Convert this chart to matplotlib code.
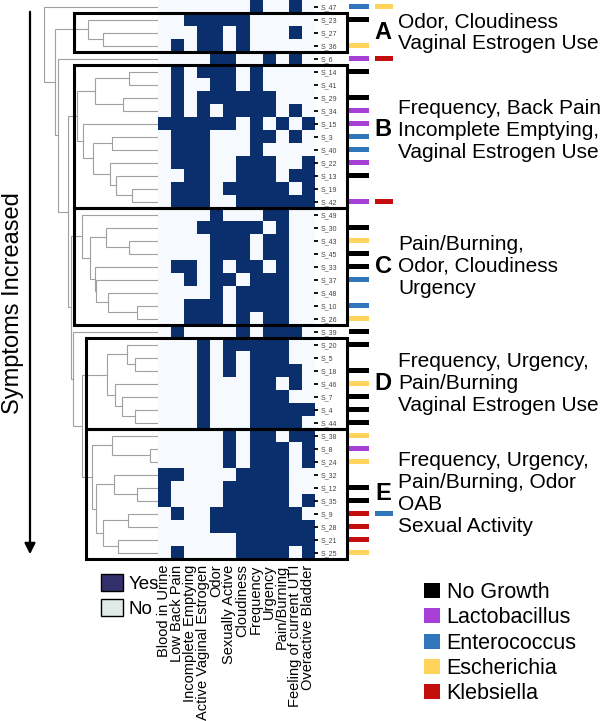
import numpy as np
import matplotlib
matplotlib.use("Agg")
import matplotlib.pyplot as plt
from matplotlib.colors import ListedColormap
from matplotlib.patches import Rectangle, Patch
from matplotlib.transforms import blended_transform_factory

plt.rcParams['font.family'] = ['Liberation Sans', 'DejaVu Sans']

W, H = 600, 721

symptoms = ["Blood in Urine", "Low Back Pain", "Incomplete Emptying",
            "Active Vaginal Estrogen", "Odor", "Sexually Active", "Cloudiness",
            "Frequency", "Urgency", "Pain/Burning", "Feeling of current UTI",
            "Overactive Bladder"]

samples = ["S_47", "S_23", "S_27", "S_36", "S_6", "S_14", "S_41", "S_29", "S_34",
           "S_15", "S_3", "S_40", "S_22", "S_13", "S_19", "S_42", "S_49", "S_30",
           "S_43", "S_45", "S_33", "S_37", "S_48", "S_10", "S_26", "S_39", "S_20",
           "S_5", "S_18", "S_46", "S_7", "S_4", "S_44", "S_38", "S_8", "S_24",
           "S_32", "S_12", "S_35", "S_9", "S_28", "S_21", "S_25"]

# 1 = yes, one string per sample, columns in the order of `symptoms`
answers = ["000000010010", "001111100000", "000110100010", "010110100000",
           "000011001010", "010111010000", "010011010000", "010111111000",
           "010101111010", "111111010101", "011100011010", "011100010000",
           "011100111001", "001100111011", "011101111101", "011100111111",
           "000010001100", "000111110100", "000011101100", "000011101100",
           "011010110100", "001011011100", "000010111100", "001110111100",
           "001110101100", "010000101110", "000101111100", "000101011100",
           "000101011110", "000100011010", "000100011100", "000100011111",
           "000100011110", "000001011011", "000001011101", "000001011101",
           "110000111100", "100001111100", "100001111101", "010011111110",
           "000011111111", "000000111111", "010000111101"]

# culture result per sample (first and second organism)
culture_1 = ["Enterococcus", "No Growth", None, "Escherichia", "Lactobacillus",
             "No Growth", None, "No Growth", "Lactobacillus", "Lactobacillus",
             "Enterococcus", "Enterococcus", "Lactobacillus", "No Growth", None,
             "Lactobacillus", None, "No Growth", "Escherichia", "No Growth",
             "No Growth", "Enterococcus", None, "Enterococcus", "Escherichia",
             "No Growth", "No Growth", None, "No Growth", "Escherichia",
             "No Growth", "No Growth", "No Growth", "Escherichia", "Lactobacillus",
             "Escherichia", None, "No Growth", "No Growth", "Klebsiella",
             "Klebsiella", "Klebsiella", "Escherichia"]
culture_2 = {"S_47": "Escherichia", "S_6": "Klebsiella", "S_42": "Klebsiella",
             "S_9": "Enterococcus"}

organism_colors = {"No Growth": "#000000", "Lactobacillus": "#a53fd6",
                   "Enterococcus": "#2f76bd", "Escherichia": "#ffd35c",
                   "Klebsiella": "#c40d0d"}

# hierarchical clustering: (node, left, right, distance)
merges = [
    ("a1", "S_27", "S_36", 0.48), ("A", "S_23", "a1", 0.61),
    ("b1", "S_14", "S_41", 0.25), ("b2", "S_29", "S_34", 0.31), ("b3", "b1", "b2", 0.55),
    ("b4", "S_19", "S_42", 0.23), ("b5", "S_13", "b4", 0.37), ("b6", "S_22", "b5", 0.42),
    ("b7", "S_3", "S_40", 0.40), ("b8", "b7", "b6", 0.57), ("b9", "S_15", "b8", 0.66),
    ("B", "b3", "b9", 0.71),
    ("c1", "S_43", "S_45", 0.25), ("c2", "S_30", "c1", 0.46), ("c3", "S_10", "S_26", 0.18),
    ("c4", "S_48", "c3", 0.44), ("c5", "S_37", "c4", 0.54), ("c6", "S_33", "c5", 0.55),
    ("c7", "c2", "c6", 0.60), ("C", "S_49", "c7", 0.67),
    ("d1", "S_5", "S_18", 0.20), ("d2", "S_20", "d1", 0.27), ("d3", "S_4", "S_44", 0.20),
    ("d4", "S_7", "d3", 0.32), ("d5", "S_46", "d4", 0.38), ("D", "d2", "d5", 0.45),
    ("e1", "S_8", "S_24", 0.07), ("e2", "S_38", "e1", 0.40), ("e3", "S_12", "S_35", 0.18),
    ("e4", "S_32", "e3", 0.39), ("e5", "S_9", "S_28", 0.26), ("e6", "S_21", "S_25", 0.35),
    ("e7", "e5", "e6", 0.48), ("e8", "e4", "e7", 0.54), ("E", "e2", "e8", 0.58),
    ("de", "D", "E", 0.67), ("q", "S_39", "de", 0.75), ("p", "C", "q", 0.76),
    ("x", "B", "p", 0.79), ("y", "S_6", "x", 0.88), ("z", "A", "y", 0.90),
    ("root", "S_47", "z", 1.00),
]

cluster_names = ["A", "B", "C", "D", "E"]
cluster_first = [1, 5, 16, 26, 33]
cluster_last = [3, 15, 24, 32, 42]
cluster_label_row = [2, 9.5, 20, 29, 37.5]
cluster_notes = ["Odor, Cloudiness\nVaginal Estrogen Use",
                 "Frequency, Back Pain\nIncomplete Emptying,\nVaginal Estrogen Use",
                 "Pain/Burning,\nOdor, Cloudiness\nUrgency",
                 "Frequency, Urgency,\nPain/Burning\nVaginal Estrogen Use",
                 "Frequency, Urgency,\nPain/Burning, Odor\nOAB\nSexual Activity"]
box_left = [74, 74, 74, 86, 86]


def px_box(x0, y0, x1, y1):
    return [x0 / W, 1 - y1 / H, (x1 - x0) / W, (y1 - y0) / H]


fig = plt.figure(figsize=(W / 100, H / 100), dpi=100)
n = len(samples)

# dendrogram
ax_d = fig.add_axes(px_box(44, 0, 158, 559))
ax_d.set_xlim(1.0, 0.0)
ax_d.set_ylim(n - 0.5, -0.5)
ax_d.axis("off")
pos = {s: (i, 0.0) for i, s in enumerate(samples)}
for node, left, right, dist in merges:
    yl, dl = pos[left]
    yr, dr = pos[right]
    ax_d.plot([dl, dist, dist, dr], [yl, yl, yr, yr], color="#a0a0a0", lw=0.8,
              clip_on=False, solid_joinstyle="miter")
    pos[node] = ((yl + yr) / 2, dist)

# heatmap
ax_h = fig.add_axes(px_box(158, 0, 314, 559))
mat = np.array([[int(c) for c in row] for row in answers])
ax_h.imshow(mat, cmap=ListedColormap(["#f6faff", "#0a2f6c"]), aspect="auto",
            interpolation="nearest", vmin=0, vmax=1)
ax_h.set_xticks(range(len(symptoms)))
ax_h.set_xticklabels(symptoms, rotation=90, fontsize=10.5)
ax_h.tick_params(axis="x", length=0, pad=4)
ax_h.yaxis.tick_right()
ax_h.set_yticks(range(n))
ax_h.set_yticklabels(samples, fontsize=5, color="#444444")
ax_h.tick_params(axis="y", length=3, width=1.3, color="black", pad=2)
for sp in ax_h.spines.values():
    sp.set_visible(False)

# culture bars
ax_c = fig.add_axes(px_box(346, 0, 396, 559))
ax_c.set_xlim(0, 2)
ax_c.set_ylim(n - 0.5, -0.5)
ax_c.axis("off")
for i, s in enumerate(samples):
    if culture_1[i]:
        ax_c.barh(i, 0.82, left=0.1, height=0.38, color=organism_colors[culture_1[i]])
    if s in culture_2:
        ax_c.barh(i, 0.74, left=1.14, height=0.38, color=organism_colors[culture_2[s]])

# cluster boxes and notes
trans = blended_transform_factory(fig.transFigure, ax_h.transData)
for k, name in enumerate(cluster_names):
    r0, r1 = cluster_first[k] - 0.5, cluster_last[k] + 0.5
    rect = Rectangle((box_left[k] / W, r0), (347 - box_left[k]) / W, r1 - r0,
                     transform=trans, fill=False, ec="black", lw=2.2,
                     zorder=5, clip_on=False)
    fig.add_artist(rect)
    fig.text(383 / W, cluster_label_row[k], name, transform=trans, fontsize=17,
             fontweight="bold", ha="center", va="center")
    fig.text(398 / W, cluster_label_row[k], cluster_notes[k], transform=trans,
             fontsize=15, ha="left", va="center", linespacing=1.2)

# arrow and side label
ax_d.annotate("", xy=(30 / W, 1 - 557 / H), xytext=(30 / W, 1 - 9 / H),
              xycoords="figure fraction", textcoords="figure fraction",
              arrowprops=dict(arrowstyle="-|>", lw=1.6, color="black", mutation_scale=16))
fig.text(13 / W, 1 - 303 / H, "Symptoms Increased", rotation=90, fontsize=17,
         ha="center", va="center")

# legends
yes_no = [Patch(facecolor="#33306c", edgecolor="black", lw=1),
          Patch(facecolor="#e1eae7", edgecolor="black", lw=1)]
fig.legend(yes_no, ["Yes", "No"], loc="upper left", bbox_to_anchor=(101 / W, 1 - 574 / H),
           frameon=False, fontsize=13.5, handlelength=1.15, handleheight=1.0,
           handletextpad=0.3, labelspacing=0.35, borderpad=0, borderaxespad=0)

org_handles = [Patch(facecolor=c, edgecolor="none") for c in organism_colors.values()]
fig.legend(org_handles, list(organism_colors.keys()), loc="upper left",
           bbox_to_anchor=(424 / W, 1 - 582 / H), frameon=False, fontsize=15.5,
           handlelength=0.75, handleheight=0.7, handletextpad=0.3,
           labelspacing=0.2, borderpad=0, borderaxespad=0)

fig.savefig("out.png", dpi=100)
